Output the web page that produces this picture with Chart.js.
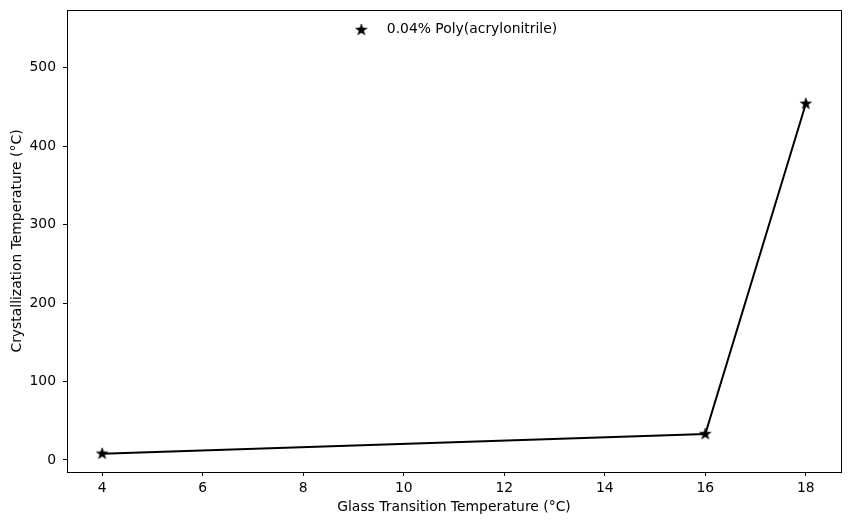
<!DOCTYPE html>
<html lang="en">
<head>
<meta charset="utf-8">
<script src="https://cdn.jsdelivr.net/npm/chart.js@4.4.1/dist/chart.umd.min.js"></script>
<style>
  html, body { margin: 0; background: #fff; }
  canvas { display: block; }
</style>
</head>
<body>
<canvas id="grafico" width="850" height="525"></canvas>
<script>
/* Datos. */
const temperaturaVitrea = [4, 16, 18];
const temperaturaCristalizacion = [8, 33, 454];
const ticksX = [4, 6, 8, 10, 12, 14, 16, 18];
const ticksY = [0, 100, 200, 300, 400, 500];
const etiquetaSerie = '0.04% Poly(acrylonitrile)';
const tituloX = 'Glass Transition Temperature (°C)';
const tituloY = 'Crystallization Temperature (°C)';

const FUENTE = { family: '"DejaVu Sans", sans-serif', size: 13.9 };

/* Estrella rellena de cinco puntas, como el marcador '*' de matplotlib. */
function crearEstrella(radio) {
  const lado = Math.ceil(radio * 2 + 2);
  const c = document.createElement('canvas');
  c.width = lado; c.height = lado;
  const ctx = c.getContext('2d');
  const cx = lado / 2, cy = lado / 2, interior = radio * 0.40;
  ctx.beginPath();
  for (let i = 0; i < 10; i++) {
    const r = i % 2 === 0 ? radio : interior;
    const a = -Math.PI / 2 + i * Math.PI / 5;
    const px = cx + r * Math.cos(a), py = cy + r * Math.sin(a);
    if (i === 0) ctx.moveTo(px, py); else ctx.lineTo(px, py);
  }
  ctx.closePath();
  ctx.fillStyle = '#000';
  ctx.fill();
  ctx.strokeStyle = '#000';
  ctx.lineWidth = 0.6;
  ctx.stroke();
  return c;
}
const estrella = crearEstrella(6);

// Marco completo alrededor del área de trazado (los cuatro "spines").
const marco = {
  id: 'marco',
  afterDatasetsDraw(chart) {
    const { ctx, chartArea: a } = chart;
    ctx.save();
    ctx.strokeStyle = '#000';
    ctx.lineWidth = 1;
    ctx.strokeRect(Math.round(a.left) + 0.5, Math.round(a.top) + 0.5,
      Math.round(a.right - a.left), Math.round(a.bottom - a.top));
    ctx.restore();
  },
};

/* Leyenda dentro del área, arriba y centrada (como loc='upper center').
 * La leyenda de Chart.js con position 'chartArea' la apila a la izquierda. */
const leyenda = {
  id: 'leyenda',
  afterDatasetsDraw(chart) {
    const { ctx, chartArea: a } = chart;
    const ds = chart.data.datasets[0];
    ctx.save();
    ctx.font = `${FUENTE.size}px ${FUENTE.family}`;
    const anchoTexto = ctx.measureText(ds.label).width;
    const asa = 37, hueco = 7;
    const ancho = asa + hueco + anchoTexto;
    const x0 = (a.left + a.right) / 2 - ancho / 2 - 4;
    const y = a.top + 19;
    ctx.drawImage(ds.pointStyle, x0 + asa / 2 - ds.pointStyle.width / 2,
      y + 1 - ds.pointStyle.height / 2);
    ctx.fillStyle = '#000';
    ctx.textBaseline = 'middle';
    ctx.textAlign = 'left';
    ctx.fillText(ds.label, x0 + asa + hueco, y);
    ctx.restore();
  },
};

const puntos = temperaturaVitrea.map((x, i) => ({ x, y: temperaturaCristalizacion[i] }));

new Chart(document.getElementById('grafico'), {
  type: 'line',
  data: {
    datasets: [{
      label: etiquetaSerie,
      data: puntos,
      borderColor: '#000',
      backgroundColor: '#000',
      borderWidth: 2,
      pointStyle: estrella,
      tension: 0,
    }],
  },
  options: {
    responsive: false,
    animation: false,
    events: [],
    layout: { padding: { top: 10, right: 9, left: 0, bottom: 0 } },
    plugins: {
      tooltip: { enabled: false },
      legend: { display: false },
    },
    scales: {
      x: {
        type: 'linear',
        min: 3.3,
        max: 18.7,
        afterBuildTicks: (s) => { s.ticks = ticksX.map((v) => ({ value: v })); },
        afterFit: (s) => { s.height = 53; s.paddingLeft = 0; s.paddingRight = 0; },
        border: { display: false },
        grid: { drawOnChartArea: false, drawTicks: true, tickLength: 4, tickColor: '#000' },
        ticks: { color: '#000', font: FUENTE, padding: 4, maxRotation: 0 },
        title: { display: true, text: tituloX, color: '#000', font: FUENTE, padding: { top: 0, bottom: 9.5 } },
      },
      y: {
        type: 'linear',
        min: -15.3,
        max: 573.5,
        afterBuildTicks: (s) => { s.ticks = ticksY.map((v) => ({ value: v })); },
        afterFit: (s) => { s.width = 67; s.paddingTop = 0; s.paddingBottom = 0; },
        border: { display: false },
        grid: { drawOnChartArea: false, drawTicks: true, tickLength: 4, tickColor: '#000' },
        ticks: { color: '#000', font: FUENTE, padding: 7 },
        title: { display: true, text: tituloY, color: '#000', font: FUENTE, padding: { top: 9, bottom: 0 } },
      },
    },
  },
  plugins: [marco, leyenda],
});
</script>
</body>
</html>
